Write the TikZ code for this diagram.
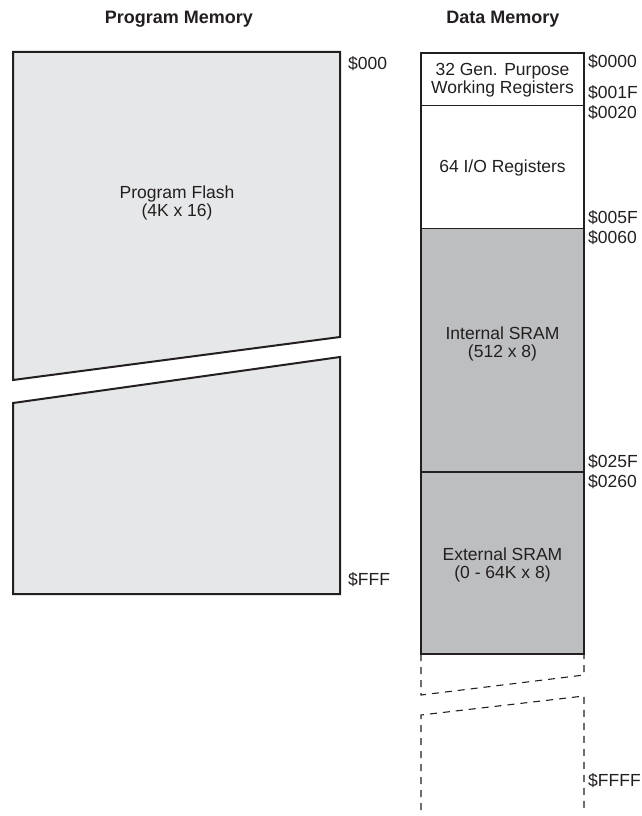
\documentclass[tikz,border=0pt]{standalone}
\usepackage{fontspec}
\setmainfont{Liberation Sans}
\definecolor{ink}{HTML}{231F20}
\definecolor{flashgray}{HTML}{E6E7E8}
\definecolor{sramgray}{HTML}{BCBEC0}
\begin{document}
\begin{tikzpicture}[
      x=1pt,y=-1pt,
      every node/.style={
        text=ink,font=\fontsize{17.5}{18.5}\selectfont,inner sep=0pt,align=center
      },
      title/.style={font=\fontsize{18}{19}\selectfont\bfseries},
      addr/.style={anchor=west},
      flash/.style={draw=ink,fill=flashgray,line width=2pt,line join=miter},
      sram/.style={fill=sramgray},
      divider/.style={draw=ink,line width=1pt},
      outline/.style={draw=ink,line width=1.8pt},
      gapline/.style={draw=ink,line width=1.1pt,dash pattern=on 7pt off 6pt},
    ]
    \useasboundingbox (0,0) rectangle (641,816);
    % titles
    \node[title] (ptitle) at (179,19) {Program Memory};
    \node[title] (dtitle) at (503,19) {Data Memory};
    % program memory, broken in two
    \draw[flash] (13,52) -- (340,52) -- (340,337) -- (13,380) -- cycle;
    \draw[flash] (13,403) -- (340,357) -- (340,594) -- (13,594) -- cycle;
    \node (flash) at (177,203) {Program Flash\\(4K x 16)};
    \node[addr] (p000) at (348,64) {\$000};
    \node[addr] (pfff) at (348,580) {\$FFF};
    % data memory
    \fill[sram] (421,228) rectangle (584,654);
    \node (gpr) at (502.5,80) {32 Gen. Purpose\\Working Registers};
    \node (io) at (502.5,168) {64 I/O Registers};
    \node (isram) at (502.5,344) {Internal SRAM\\(512 x 8)};
    \node (esram) at (502.5,565) {External SRAM\\(0 - 64K x 8)};
    \draw[divider] (421,105) -- (584,105);
    \draw[divider] (421,228) -- (584,228);
    \draw[outline] (421,53) rectangle (584,472);
    \draw[outline,line width=2.2pt] (421,472) rectangle (584,654);
    % dashed continuation
    \draw[gapline] (421,654) -- (421,695) -- (584,675) -- (584,654);
    \draw[gapline] (421,810) -- (421,715) -- (584,696) -- (584,810);
    % addresses
    \node[addr] (a0000) at (588,62) {\$0000};
    \node[addr] (a001f) at (588,93) {\$001F};
    \node[addr] (a0020) at (588,113) {\$0020};
    \node[addr] (a005f) at (588,218) {\$005F};
    \node[addr] (a0060) at (588,238) {\$0060};
    \node[addr] (a025f) at (588,462) {\$025F};
    \node[addr] (a0260) at (588,482) {\$0260};
    \node[addr] (affff) at (588,781) {\$FFFF};
  \end{tikzpicture}
\end{document}
